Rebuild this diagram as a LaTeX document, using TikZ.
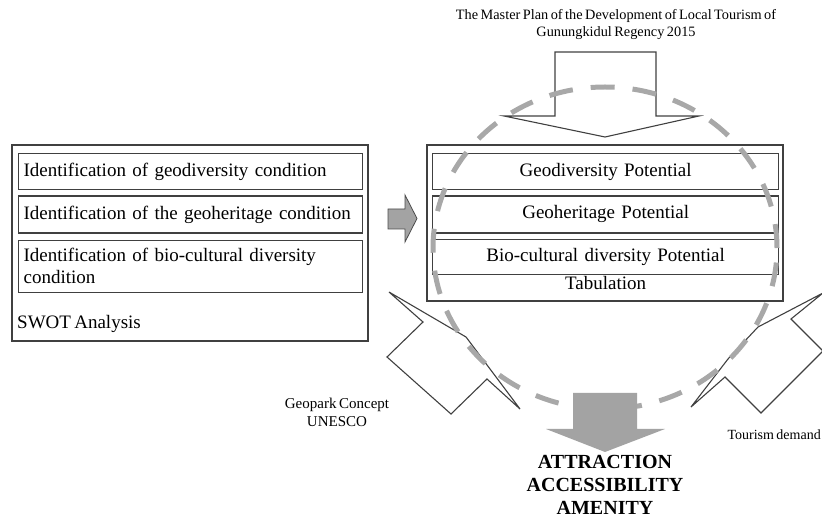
\documentclass[tikz,border=0pt]{standalone}
\usepackage{fontspec}
\setmainfont[WordSpace=0.7]{Liberation Serif}
\usetikzlibrary{positioning}

\definecolor{boxLine}{gray}{0.25}
\definecolor{ringGray}{gray}{0.66}
\definecolor{arrowGray}{gray}{0.64}

\tikzset{
    outerBox/.style={draw=boxLine, line width=1.3pt},
    innerBox/.style={draw=boxLine, line width=1.3pt, inner xsep=5pt, inner ysep=0pt},
    bodyText/.style={font=\fontsize{19}{22}\selectfont},
    smallText/.style={font=\fontsize{14}{17}\selectfont, align=center},
    hollowArrow/.style={draw=boxLine, line width=1.1pt, line join=miter},
    ring/.style={draw=ringGray, line width=5pt, dash pattern=on 24pt off 18pt}
}

\begin{document}
\begin{tikzpicture}[x=1pt, y=-1pt]

    \useasboundingbox (0,0) rectangle (822,518);

    \def\boxGap{5pt}
    \def\leftWidth{334pt}
    \def\rightWidth{336pt}

    % left block
    \draw[outerBox] (12,145) rectangle (368,341);
    \node[innerBox, bodyText, anchor=north west, text width=\leftWidth, align=left, minimum height=36pt] (geoCond) at (18,153) {Identification of geodiversity condition};
    \node[innerBox, bodyText, below=\boxGap of geoCond, text width=\leftWidth, align=left, minimum height=37pt] (heritCond) {Identification of the geoheritage condition};
    \node[innerBox, bodyText, below=6pt of heritCond, text width=\leftWidth, align=left, minimum height=52pt] (bioCond) {Identification of bio-cultural diversity\\condition};
    \node[bodyText, anchor=south west, inner sep=0pt] (swot) at (17,333) {SWOT Analysis};

    % right block
    \draw[outerBox] (427,145) rectangle (783,301);
    \node[innerBox, bodyText, anchor=north west, text width=\rightWidth, align=center, minimum height=36pt] (geoPot) at (432,153) {Geodiversity Potential};
    \node[innerBox, bodyText, below=\boxGap of geoPot, text width=\rightWidth, align=center, minimum height=37pt] (heritPot) {Geoheritage Potential};
    \node[innerBox, bodyText, below=5pt of heritPot, text width=\rightWidth, align=center, minimum height=35pt] (bioPot) {Bio-cultural diversity Potential};
    \node[bodyText, below=0pt of bioPot, inner sep=1.5pt] (tabulation) {Tabulation};

    % gray arrow between blocks
    \draw[fill=arrowGray, draw=gray!60!black, line width=0.8pt, line join=miter]
        (388,209) -- (405,209) -- (405,195) -- (417,218.5) -- (405,242) -- (405,229) -- (388,229) -- cycle;

    % master plan arrow
    \draw[hollowArrow] (555,52) -- (656,52) -- (656,116) -- (699,116) -- (605,137) -- (504,116) -- (555,116) -- cycle;

    % geopark arrow
    \draw[hollowArrow] (389,292) -- (466,337) -- (520,409) -- (487,379) -- (451,414) -- (387,357) -- (423,322) -- cycle;

    % tourism demand arrow
    \draw[hollowArrow] (691,407) -- (728,359) -- (758,327) -- (823,293) -- (791,319) -- (823,351) -- (761,413) -- (725,377) -- cycle;

    % dashed ring
    \draw[ring] (605,248) ellipse [x radius=172pt, y radius=161pt];

    % result arrow
    \fill[arrowGray] (573,393) -- (637,393) -- (637,429) -- (665,429) -- (605,452) -- (546,429) -- (573,429) -- cycle;

    % labels
    \node[smallText, font=\fontsize{14.3}{17}\selectfont] (masterPlan) at (616,25) {The Master Plan of the Development of Local Tourism of\\Gunungkidul Regency 2015};
    \node[smallText, font=\fontsize{15}{18}\selectfont] (geopark) at (337,412) {Geopark Concept\\UNESCO};
    \node[smallText, anchor=east, inner sep=0pt] (tourism) at (821,435) {Tourism demand};
    \node[font=\fontsize{20}{23}\selectfont\bfseries, align=center] (results) at (605,485) {ATTRACTION\\ACCESSIBILITY\\AMENITY};

\end{tikzpicture}
\end{document}
